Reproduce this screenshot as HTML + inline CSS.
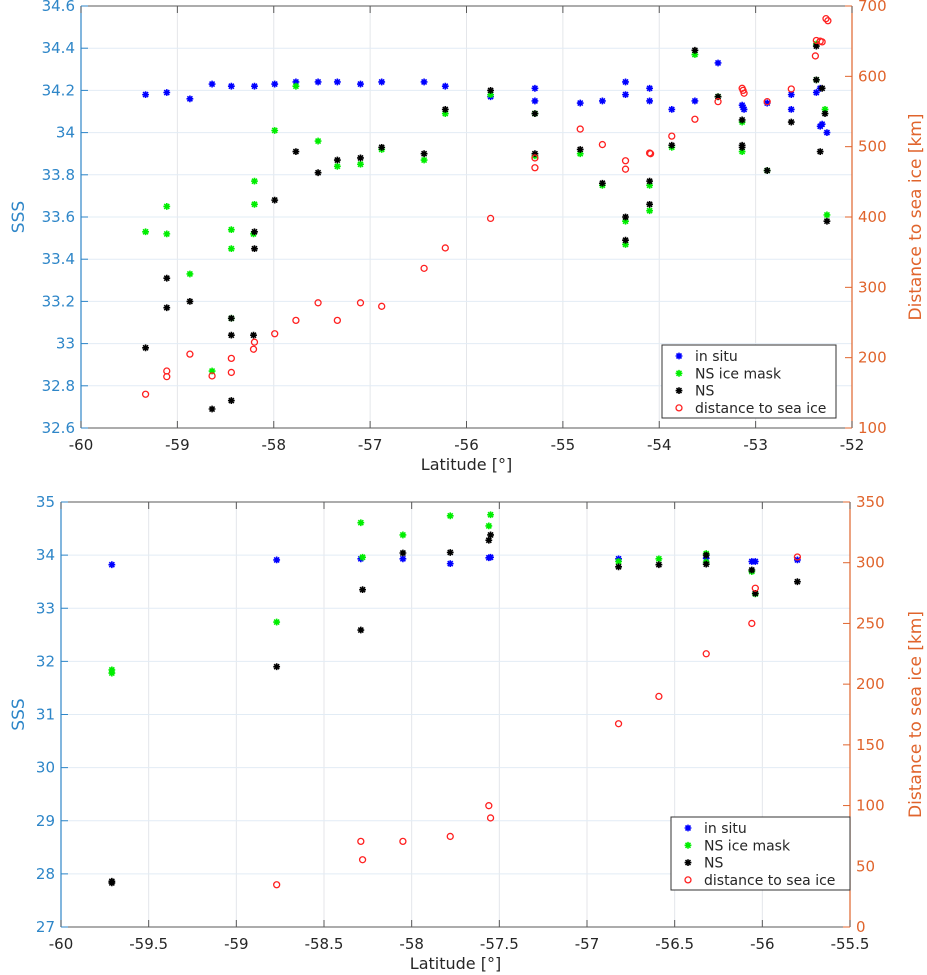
<!DOCTYPE html>
<html><head><meta charset="utf-8">
<style>
html,body{margin:0;padding:0;background:#fff;}
svg{display:block;font-family:"DejaVu Sans","Liberation Sans",sans-serif;}
</style></head>
<body>
<svg id="chart" width="927" height="975" viewBox="0 0 927 975" xmlns="http://www.w3.org/2000/svg"></svg>
<script>
// ---------- TOP PANEL DATA ----------
const topInsituLat=[-59.33,-59.11,-58.87,-58.64,-58.44,-58.20,-57.99,-57.77,-57.54,-57.34,-57.10,-56.88,-56.44,-56.22,-55.75,-55.29,-55.29,-54.82,-54.59,-54.35,-54.35,-54.10,-54.10,-53.87,-53.63,-53.39,-53.14,-53.13,-53.12,-52.88,-52.63,-52.63,-52.37,-52.33,-52.33,-52.31,-52.26];
const topInsituSSS=[34.18,34.19,34.16,34.23,34.22,34.22,34.23,34.24,34.24,34.24,34.23,34.24,34.24,34.22,34.17,34.21,34.15,34.14,34.15,34.24,34.18,34.21,34.15,34.11,34.15,34.33,34.13,34.12,34.11,34.14,34.18,34.11,34.19,34.21,34.03,34.04,34.00];
const topMaskLat=[-59.33,-59.11,-59.11,-58.87,-58.64,-58.44,-58.44,-58.44,-58.20,-58.20,-58.21,-57.99,-57.77,-57.54,-57.34,-57.10,-56.88,-56.44,-56.22,-55.75,-55.29,-55.29,-54.82,-54.59,-54.35,-54.35,-54.10,-54.10,-53.87,-53.63,-53.39,-53.14,-53.14,-52.88,-52.37,-52.37,-52.28,-52.26];
const topMaskSSS=[33.53,33.65,33.52,33.33,32.87,33.54,33.45,33.12,33.77,33.66,33.52,34.01,34.22,33.96,33.84,33.85,33.92,33.87,34.09,34.18,34.09,33.89,33.90,33.75,33.58,33.47,33.75,33.63,33.93,34.37,34.17,34.05,33.91,33.82,34.25,34.42,34.11,33.61];
const topNSLat=[-59.33,-59.11,-59.11,-58.87,-58.64,-58.44,-58.44,-58.44,-58.20,-58.20,-58.21,-57.99,-57.77,-57.54,-57.34,-57.10,-56.88,-56.44,-56.22,-55.75,-55.29,-55.29,-54.82,-54.59,-54.35,-54.35,-54.10,-54.10,-53.87,-53.63,-53.39,-53.14,-53.14,-53.14,-52.88,-52.63,-52.37,-52.37,-52.33,-52.31,-52.28,-52.26];
const topNSSSS=[32.98,33.31,33.17,33.20,32.69,33.12,33.04,32.73,33.53,33.45,33.04,33.68,33.91,33.81,33.87,33.88,33.93,33.90,34.11,34.20,34.09,33.90,33.92,33.76,33.60,33.49,33.77,33.66,33.94,34.39,34.17,34.06,33.94,33.93,33.82,34.05,34.25,34.41,33.91,34.21,34.09,33.58];
const topDistLat=[-59.33,-59.11,-59.11,-58.87,-58.64,-58.44,-58.44,-58.20,-58.21,-57.99,-57.77,-57.54,-57.34,-57.10,-56.88,-56.44,-56.22,-55.75,-55.29,-55.29,-54.82,-54.59,-54.35,-54.35,-54.10,-54.09,-53.87,-53.63,-53.39,-53.14,-53.13,-53.12,-52.88,-52.63,-52.37,-52.38,-52.33,-52.31,-52.27,-52.25];
const topDistKm=[148,181,173,205,174,199,179,222,212,234,253,278,253,278,273,327,356,398,484,470,525,503,480,468,491,490,515,539,564,583,580,576,564,582,651,629,650,649,682,679];
const topXTicks=[-60,-59,-58,-57,-56,-55,-54,-53,-52];
const topYTicks=[32.6,32.8,33,33.2,33.4,33.6,33.8,34,34.2,34.4,34.6];
const topYTickLabels=["32.6","32.8","33","33.2","33.4","33.6","33.8","34","34.2","34.4","34.6"];
const topRTicks=[100,200,300,400,500,600,700];

// ---------- BOTTOM PANEL DATA ----------
const botInsituLat=[-59.71,-58.77,-58.29,-58.05,-57.78,-57.56,-57.55,-56.82,-56.32,-56.06,-56.04,-55.80];
const botInsituSSS=[33.82,33.91,33.93,33.93,33.84,33.95,33.96,33.93,33.94,33.88,33.88,33.91];
const botMaskLat=[-59.71,-59.71,-58.77,-58.29,-58.28,-58.05,-57.78,-57.55,-57.56,-56.82,-56.59,-56.32,-56.32,-56.06,-56.04];
const botMaskSSS=[31.84,31.78,32.74,34.61,33.96,34.38,34.74,34.76,34.55,33.88,33.93,34.03,33.87,33.69,33.27];
const botNSLat=[-59.71,-59.71,-58.77,-58.28,-58.29,-58.05,-57.78,-57.55,-57.56,-56.82,-56.59,-56.32,-56.32,-56.06,-56.04,-55.80];
const botNSSSS=[27.86,27.83,31.90,33.35,32.59,34.04,34.05,34.38,34.28,33.78,33.82,34.00,33.83,33.72,33.28,33.50];
const botDistLat=[-58.77,-58.29,-58.28,-58.05,-57.78,-57.56,-57.55,-56.82,-56.59,-56.32,-56.06,-56.04,-55.80];
const botDistKm=[34.8,70.5,55.4,70.5,74.6,99.9,89.8,167.4,189.9,225,250,279,304.7];
const botXTicks=[-60,-59.5,-59,-58.5,-58,-57.5,-57,-56.5,-56,-55.5];
const botYTicks=[27,28,29,30,31,32,33,34,35];
const botRTicks=[0,50,100,150,200,250,300,350];

const NS='http://www.w3.org/2000/svg';
const svg=document.getElementById('chart');
const BLUE='#2e86c8', ORANGE='#e0642c', GRAY='#262626';

function mk(tag,attrs,parent){
  const e=document.createElementNS(NS,tag);
  for(const k in attrs) e.setAttribute(k,attrs[k]);
  (parent||svg).appendChild(e);
  return e;
}

function drawPanel(p){
  const g=mk('g',{});
  
  
  const sx=v=>p.x0+(v-p.xmin)/(p.xmax-p.xmin)*(p.x1-p.x0);
  const sy=v=>p.y1-(v-p.ymin)/(p.ymax-p.ymin)*(p.y1-p.y0);
  const sr=v=>p.y1-(v-p.rmin)/(p.rmax-p.rmin)*(p.y1-p.y0);
  // grid
  p.xticks.forEach(t=>{
    const x=sx(t);
    const l=mk('line',{x1:x,x2:x,y1:p.y0,y2:p.y1,stroke:'#e4e6ea','stroke-width':1},g);
    
    
  });
  p.yticks.forEach(t=>{
    const y=sy(t);
    const l=mk('line',{x1:p.x0,x2:p.x1,y1:y,y2:y,stroke:'#e2ecf5','stroke-width':1},g);
    
    
  });
  // spines
  mk('line',{x1:p.x0,x2:p.x1,y1:p.y0,y2:p.y0,stroke:'#5a5a5a','stroke-width':1},g);
  const xb=mk('line',{x1:p.x0,x2:p.x1,y1:p.y1,y2:p.y1,stroke:'#5a5a5a','stroke-width':1},g);
  
  
  const yl=mk('line',{x1:p.x0,x2:p.x0,y1:p.y0,y2:p.y1,stroke:BLUE,'stroke-width':1.2},g);
  
  
  const yr=mk('line',{x1:p.x1,x2:p.x1,y1:p.y0,y2:p.y1,stroke:ORANGE,'stroke-width':1.2},g);
  
  
  // x ticks
  p.xticks.forEach(t=>{
    const x=sx(t);
    mk('line',{x1:x,x2:x,y1:p.y1,y2:p.y1-7,stroke:'#5a5a5a'},g);
    mk('line',{x1:x,x2:x,y1:p.y0,y2:p.y0+7,stroke:'#5a5a5a'},g);
    const tx=mk('text',{x:x,y:p.y1+22,'text-anchor':'middle','font-size':15,fill:GRAY},g);
    tx.textContent=String(t);
    
    
  });
  p.yticks.forEach((t,i)=>{
    const y=sy(t);
    mk('line',{x1:p.x0,x2:p.x0+7,y1:y,y2:y,stroke:BLUE},g);
    const tx=mk('text',{x:p.x0-6,y:y+5,'text-anchor':'end','font-size':15,fill:BLUE},g);
    tx.textContent=p.ylabels?p.ylabels[i]:String(t);
    
    
  });
  p.rticks.forEach(t=>{
    const y=sr(t);
    mk('line',{x1:p.x1,x2:p.x1-7,y1:y,y2:y,stroke:ORANGE},g);
    const tx=mk('text',{x:p.x1+6,y:y+5,'text-anchor':'start','font-size':15,fill:ORANGE},g);
    tx.textContent=String(t);
    
    
  });
  // labels
  const xlab=mk('text',{x:(p.x0+p.x1)/2,y:p.y1+42,'text-anchor':'middle','font-size':16,fill:GRAY},g);
  xlab.textContent='Latitude [°]';
  
  
  const cy=(p.y0+p.y1)/2;
  const ylab=mk('text',{x:0,y:0,'text-anchor':'middle','font-size':17,fill:BLUE,transform:`translate(${p.ylabX},${cy}) rotate(-90)`},g);
  ylab.textContent='SSS';
  
  
  const rlab=mk('text',{x:0,y:0,'text-anchor':'middle','font-size':17,fill:ORANGE,transform:`translate(${p.rlabX},${cy}) rotate(-90)`},g);
  rlab.textContent='Distance to sea ice [km]';
  
  

  // series
  function star(x,y,color,parent){
    const s=3.4,d=2.5;
    const pth=mk('path',{d:`M${x-s},${y}H${x+s}M${x},${y-s}V${y+s}M${x-d},${y-d}L${x+d},${y+d}M${x-d},${y+d}L${x+d},${y-d}`,stroke:color,'stroke-width':1.6,fill:'none'},parent);
    return pth;
  }
  const series=[
    {lat:p.insLat,val:p.insVal,color:'#0000ff',name:'insitu'},
    {lat:p.maskLat,val:p.maskVal,color:'#00ee00',name:'ns-ice-mask'},
    {lat:p.nsLat,val:p.nsVal,color:'#000000',name:'ns'}
  ];
  series.forEach(s=>{
    const sg=mk('g',{},g);
    
    
    s.lat.forEach((la,i)=>{
      const m=star(sx(la),sy(s.val[i]),s.color,sg);
      
      
    });
  });
  const dg=mk('g',{},g);
  
  
  p.distLat.forEach((la,i)=>{
    const c=mk('circle',{cx:sx(la),cy:sr(p.distVal[i]),r:3,fill:'none',stroke:'#ff2020','stroke-width':1.3},dg);
    
    
  });
  // legend
  const L=p.legend;
  const lg=mk('g',{},g);
  
  
  mk('rect',{x:L.x,y:L.y,width:L.w,height:L.h,fill:'#fff',stroke:'#333','stroke-width':1},lg);
  const entries=[['in situ','#0000ff','star'],['NS ice mask','#00ee00','star'],['NS','#000000','star'],['distance to sea ice','#ff2020','circle']];
  entries.forEach((e,i)=>{
    const y=L.y+11+i*17.3;
    const eg=mk('g',{},lg);
    
    
    if(e[2]==='star') star(L.x+17,y,e[1],eg);
    else mk('circle',{cx:L.x+17,cy:y,r:3,fill:'none',stroke:e[1],'stroke-width':1.3},eg);
    const t=mk('text',{x:L.x+33,y:y+5,'font-size':14,fill:GRAY},eg);
    t.textContent=e[0];
  });
}

drawPanel({name:'top-panel',x0:81,x1:852,y0:6,y1:428,xmin:-60,xmax:-52,ymin:32.6,ymax:34.6,rmin:100,rmax:700,
  xticks:topXTicks,yticks:topYTicks,ylabels:topYTickLabels,rticks:topRTicks,ylabX:24,rlabX:921,
  insLat:topInsituLat,insVal:topInsituSSS,maskLat:topMaskLat,maskVal:topMaskSSS,nsLat:topNSLat,nsVal:topNSSSS,
  distLat:topDistLat,distVal:topDistKm,legend:{x:662,y:345,w:174,h:73}});
drawPanel({name:'bottom-panel',x0:61,x1:850,y0:502,y1:927,xmin:-60,xmax:-55.5,ymin:27,ymax:35,rmin:0,rmax:350,
  xticks:botXTicks,yticks:botYTicks,rticks:botRTicks,ylabX:24,rlabX:921,
  insLat:botInsituLat,insVal:botInsituSSS,maskLat:botMaskLat,maskVal:botMaskSSS,nsLat:botNSLat,nsVal:botNSSSS,
  distLat:botDistLat,distVal:botDistKm,legend:{x:671,y:817,w:179,h:73}});
</script>
</body></html>
